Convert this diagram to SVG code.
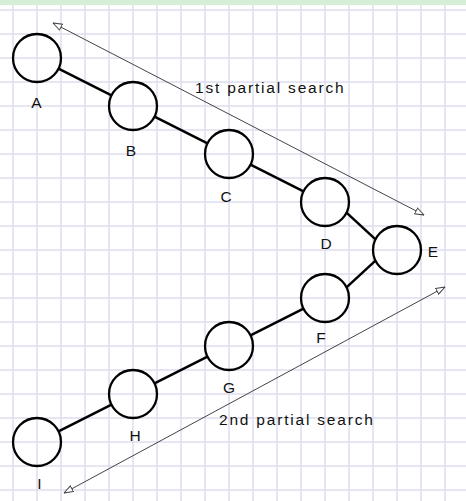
<svg xmlns="http://www.w3.org/2000/svg" width="466" height="501" viewBox="0 0 466 501">
<style>
.grid line{stroke:#dcdcf0;stroke-width:1.5}
.node circle{fill:none;stroke:#000;stroke-width:2.3}
.lbl{font-family:"Liberation Sans",Arial,sans-serif;font-size:15.5px;fill:#111;text-anchor:middle}
.cap{font-family:"Liberation Sans",Arial,sans-serif;font-size:15.5px;fill:#111;letter-spacing:1.8px}
.edge{stroke:#000;stroke-width:2.5;fill:none}
.span{stroke:#444;stroke-width:1;fill:none;marker-start:url(#oa);marker-end:url(#oa)}
</style>
<defs>
<marker id="oa" viewBox="0 0 10 8" refX="9.5" refY="4" markerWidth="10" markerHeight="8" markerUnits="userSpaceOnUse" orient="auto-start-reverse">
<path d="M0.5,0.8 L9.5,4 L0.5,7.2 Z" fill="#fff" stroke="#444" stroke-width="1"/>
</marker>
</defs>
<rect width="466" height="501" fill="#fff"/>
<g class="grid">
<line x1="13" y1="0" x2="13" y2="501"/><line x1="37" y1="0" x2="37" y2="501"/><line x1="61" y1="0" x2="61" y2="501"/><line x1="85" y1="0" x2="85" y2="501"/><line x1="109" y1="0" x2="109" y2="501"/><line x1="133" y1="0" x2="133" y2="501"/><line x1="157" y1="0" x2="157" y2="501"/><line x1="181" y1="0" x2="181" y2="501"/><line x1="205" y1="0" x2="205" y2="501"/><line x1="229" y1="0" x2="229" y2="501"/><line x1="253" y1="0" x2="253" y2="501"/><line x1="277" y1="0" x2="277" y2="501"/><line x1="301" y1="0" x2="301" y2="501"/><line x1="325" y1="0" x2="325" y2="501"/><line x1="349" y1="0" x2="349" y2="501"/><line x1="373" y1="0" x2="373" y2="501"/><line x1="397" y1="0" x2="397" y2="501"/><line x1="421" y1="0" x2="421" y2="501"/><line x1="445" y1="0" x2="445" y2="501"/>
<line x1="0" y1="10" x2="466" y2="10"/><line x1="0" y1="34" x2="466" y2="34"/><line x1="0" y1="58" x2="466" y2="58"/><line x1="0" y1="82" x2="466" y2="82"/><line x1="0" y1="106" x2="466" y2="106"/><line x1="0" y1="130" x2="466" y2="130"/><line x1="0" y1="154" x2="466" y2="154"/><line x1="0" y1="178" x2="466" y2="178"/><line x1="0" y1="202" x2="466" y2="202"/><line x1="0" y1="226" x2="466" y2="226"/><line x1="0" y1="250" x2="466" y2="250"/><line x1="0" y1="274" x2="466" y2="274"/><line x1="0" y1="298" x2="466" y2="298"/><line x1="0" y1="322" x2="466" y2="322"/><line x1="0" y1="346" x2="466" y2="346"/><line x1="0" y1="370" x2="466" y2="370"/><line x1="0" y1="394" x2="466" y2="394"/><line x1="0" y1="418" x2="466" y2="418"/><line x1="0" y1="442" x2="466" y2="442"/><line x1="0" y1="466" x2="466" y2="466"/><line x1="0" y1="490" x2="466" y2="490"/>
</g>
<rect x="0" y="0" width="466" height="5" fill="#d6edd6"/>
<g id="connectors">
<line class="edge" x1="58.5" y1="68.7" x2="111.5" y2="95.3"/>
<line class="edge" x1="154.5" y1="116.7" x2="207.5" y2="143.3"/>
<line class="edge" x1="250.5" y1="164.7" x2="303.5" y2="191.3"/>
<line class="edge" x1="346.5" y1="212.7" x2="375.5" y2="239.3"/>
<line class="edge" x1="375.5" y1="260.7" x2="346.5" y2="287.3"/>
<line class="edge" x1="303.5" y1="308.7" x2="250.5" y2="335.3"/>
<line class="edge" x1="207.5" y1="356.7" x2="154.5" y2="383.3"/>
<line class="edge" x1="111.5" y1="404.7" x2="58.5" y2="431.3"/>
<line class="span" x1="53" y1="23" x2="424" y2="215"/>
<line class="span" x1="445" y1="287" x2="64" y2="493"/>
</g>
<g id="A" class="node"><circle cx="37" cy="58" r="24"/><text class="lbl" x="36.5" y="108">A</text></g>
<g id="B" class="node"><circle cx="133" cy="106" r="24"/><text class="lbl" x="131" y="156">B</text></g>
<g id="C" class="node"><circle cx="229" cy="154" r="24"/><text class="lbl" x="226" y="202">C</text></g>
<g id="D" class="node"><circle cx="325" cy="202" r="24"/><text class="lbl" x="326" y="249">D</text></g>
<g id="E" class="node"><circle cx="397" cy="250" r="24"/><text class="lbl" x="433" y="257">E</text></g>
<g id="F" class="node"><circle cx="325" cy="298" r="24"/><text class="lbl" x="321" y="343">F</text></g>
<g id="G" class="node"><circle cx="229" cy="346" r="24"/><text class="lbl" x="229" y="393">G</text></g>
<g id="H" class="node"><circle cx="133" cy="394" r="24"/><text class="lbl" x="135" y="441">H</text></g>
<g id="I" class="node"><circle cx="37" cy="442" r="24"/><text class="lbl" x="39.5" y="489">I</text></g>
<text class="cap" x="195" y="93">1st partial search</text>
<text class="cap" x="219" y="425">2nd partial search</text>
</svg>
